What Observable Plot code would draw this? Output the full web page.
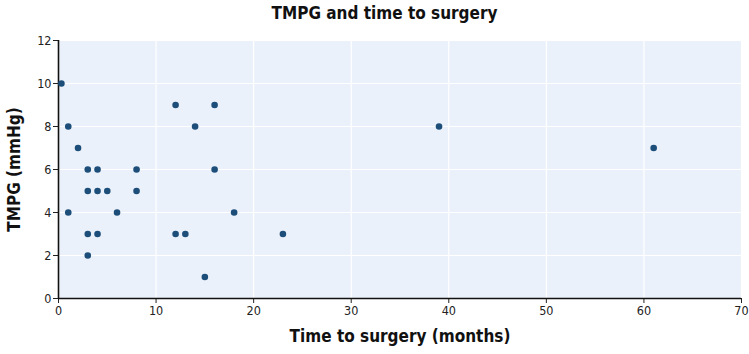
<!DOCTYPE html>
<html>
<head>
<meta charset="utf-8">
<script src="https://cdn.jsdelivr.net/npm/d3@7"></script>
<script src="https://cdn.jsdelivr.net/npm/@observablehq/plot@0.6"></script>
<style>
  html, body { margin: 0; padding: 0; background: #fff; }
  body { width: 749px; height: 354px; overflow: hidden; font-family: "DejaVu Sans", sans-serif; font-stretch: condensed; }
  #title { height: 28px; line-height: 26px; text-align: center; font-weight: bold; font-size: 17px; padding-left: 20px; color: #111; font-stretch: condensed; }
  svg text { font-stretch: condensed; }
</style>
</head>
<body>
<div id="title">TMPG and time to surgery</div>
<div id="chart"></div>
<script>
const timeMonths = [0.3, 1, 1, 2, 3, 3, 3, 3, 4, 4, 4, 5, 6, 8, 8, 12, 12, 13, 14, 15, 16, 16, 18, 23, 39, 61];
const tmpg       = [10,  8, 4, 7, 6, 5, 3, 2, 6, 5, 3, 5, 4, 6, 5,  9,  3,  3,  8,  1,  9,  6,  4,  3,  8,  7];
const xTicks = [0, 10, 20, 30, 40, 50, 60, 70];
const yTicks = [0, 2, 4, 6, 8, 10, 12];
const xLabel = "Time to surgery (months)";
const yLabel = "TMPG (mmHg)";

const data = timeMonths.map((t, i) => ({t, v: tmpg[i]}));
const font = "'DejaVu Sans', sans-serif";

const chart = Plot.plot({
  width: 749,
  height: 326,
  marginTop: 12,
  marginBottom: 56,
  marginLeft: 58,
  marginRight: 8,
  style: {fontFamily: font, fontSize: "12px", color: "#222", background: "#fff"},
  x: {domain: [0, 70], ticks: xTicks},
  y: {domain: [0, 12], ticks: yTicks},
  marks: [
    Plot.frame({fill: "#eaf1fa", stroke: null}),
    Plot.gridX(xTicks, {stroke: "#fff", strokeOpacity: 1, strokeWidth: 1.2}),
    Plot.gridY(yTicks, {stroke: "#fff", strokeOpacity: 1, strokeWidth: 1.2}),
    Plot.axisX({ticks: xTicks, tickSize: 5, tickPadding: 3, label: null, fontSize: 12.5}),
    Plot.axisY({ticks: yTicks, tickSize: 5, tickPadding: 2, label: null, fontSize: 12.5}),
    Plot.ruleX([0], {stroke: "#111", strokeWidth: 1.6}),
    Plot.ruleY([0], {stroke: "#111", strokeWidth: 1.6}),
    Plot.dot(data, {x: "t", y: "v", r: 3.3, fill: "#1d4e7a", stroke: null}),
    Plot.text([xLabel], {frameAnchor: "bottom", dy: 43, fontSize: 17, fontWeight: "bold", fill: "#111"}),
    Plot.text([yLabel], {frameAnchor: "left", textAnchor: "middle", dx: -44, rotate: -90, fontSize: 17, fontWeight: "bold", fill: "#111"})
  ]
});
document.getElementById("chart").appendChild(chart);
</script>
</body>
</html>
